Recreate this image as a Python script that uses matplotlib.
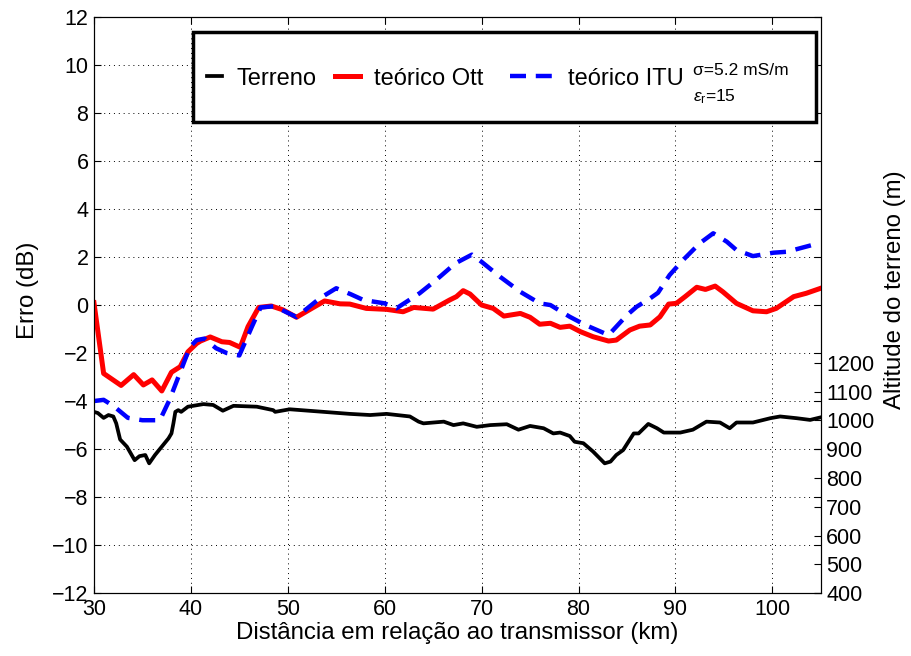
import numpy as np
import matplotlib
matplotlib.use("Agg")
from matplotlib import pyplot as plt
from matplotlib.legend import Legend
from matplotlib.patches import Rectangle

plt.rcParams["font.family"] = ["Liberation Sans", "DejaVu Sans"]
plt.rcParams["mathtext.fontset"] = "custom"
plt.rcParams["mathtext.rm"] = "Liberation Sans"
plt.rcParams["mathtext.it"] = "Liberation Sans:italic"

# terrain profile (m) along the path
dist_terr = [30.0, 30.4, 31.0, 31.5, 32.0, 32.3, 32.7, 33.4, 34.2, 34.7, 35.3, 35.7,
             36.3, 37.0, 37.7, 38.0, 38.2, 38.4, 38.7, 39.0, 39.7, 41.3, 42.3, 43.3,
             44.4, 46.8, 48.5, 48.7, 50.2, 53.7, 56.4, 58.5, 60.2, 62.6, 63.5, 64.0,
             66.1, 67.1, 68.1, 69.5, 70.9, 72.6, 73.8, 75.0, 76.4, 77.4, 78.1, 79.1,
             79.6, 80.5, 81.5, 82.7, 83.3, 83.9, 84.6, 85.7, 86.2, 87.2, 88.1, 88.8,
             90.5, 91.8, 93.2, 94.6, 95.6, 96.3, 98.0, 99.8, 100.8, 102.5, 103.9, 105.0]
alt_terr = [1030, 1026, 1009, 1019, 1014, 990, 934, 909, 862, 876, 880, 851,
            880, 909, 938, 955, 990, 1030, 1036, 1030, 1048, 1057, 1054, 1034,
            1051, 1048, 1036, 1030, 1039, 1030, 1023, 1019, 1023, 1014, 996, 990,
            996, 984, 990, 978, 984, 987, 968, 981, 973, 955, 958, 946,
            926, 921, 892, 851, 857, 880, 897, 955, 955, 988, 973, 958,
            958, 968, 996, 993, 973, 993, 993, 1008, 1014, 1008, 1002, 1011]

# error of the Ott model (dB)
dist_ott = [30.0, 30.2, 31.0, 32.8, 34.1, 35.1, 36.0, 37.0, 38.0, 38.9, 39.7, 40.6,
            41.0, 42.0, 43.2, 44.0, 45.1, 45.9, 47.0, 48.3, 49.5, 50.9, 52.6, 53.8,
            55.4, 56.4, 58.1, 60.2, 61.9, 63.0, 65.0, 66.7, 67.4, 68.1, 68.8, 70.0,
            71.2, 72.3, 74.0, 75.0, 76.0, 77.1, 78.1, 79.1, 80.2, 81.5, 83.1, 83.9,
            85.3, 86.3, 87.4, 88.4, 89.3, 90.1, 91.0, 92.2, 93.1, 94.1, 94.9, 96.3,
            98.0, 99.4, 100.4, 102.2, 103.5, 105.0]
err_ott = [0.1, -0.49, -2.85, -3.35, -2.9, -3.33, -3.12, -3.58, -2.8, -2.57, -1.95, -1.6,
           -1.5, -1.33, -1.53, -1.56, -1.76, -0.9, -0.1, -0.04, -0.2, -0.51, -0.11, 0.17,
           0.05, 0.04, -0.14, -0.18, -0.28, -0.1, -0.17, 0.21, 0.35, 0.6, 0.46, 0.0,
           -0.14, -0.46, -0.35, -0.51, -0.8, -0.76, -0.93, -0.88, -1.11, -1.32, -1.5, -1.46,
           -1.04, -0.88, -0.83, -0.49, 0.04, 0.07, 0.35, 0.74, 0.65, 0.79, 0.55, 0.07,
           -0.24, -0.28, -0.14, 0.35, 0.49, 0.7]

# error of the ITU model (dB)
dist_itu = [30.0, 31.0, 32.0, 33.5, 35.0, 36.8, 37.8, 38.9, 39.9, 40.6, 41.4, 42.6,
            43.7, 45.0, 46.3, 47.2, 48.6, 50.9, 53.3, 55.0, 56.5, 57.8, 60.0, 61.2,
            63.6, 65.3, 67.3, 69.0, 70.0, 71.9, 74.0, 76.0, 77.1, 79.1, 80.7, 83.1,
            85.0, 86.0, 87.4, 88.2, 89.4, 90.8, 92.5, 93.9, 95.3, 96.3, 98.0, 100.1,
            101.5, 104.1, 104.6]
err_itu = [-4.0, -3.95, -4.2, -4.7, -4.8, -4.8, -3.95, -2.8, -1.75, -1.46, -1.4, -1.8,
           -2.0, -2.1, -0.9, -0.1, -0.05, -0.5, 0.28, 0.7, 0.45, 0.21, 0.07, -0.14,
           0.49, 1.04, 1.74, 2.1, 1.8, 1.18, 0.55, 0.07, 0.0, -0.49, -0.83, -1.25,
           -0.42, -0.07, 0.28, 0.51, 1.25, 1.88, 2.57, 2.99, 2.64, 2.29, 2.04, 2.18,
           2.22, 2.5, 2.55]

labels = ["Terreno", "teórico Ott", "teórico ITU"]

fig = plt.figure(figsize=(9.12, 6.56), dpi=100)
ax = fig.add_axes([0.103, 0.096, 0.797, 0.878])
ax2 = ax.twinx()

# left axis draws above the terrain axis
ax.set_zorder(ax2.get_zorder() + 1)
ax.patch.set_visible(False)

h_terr, = ax2.plot(dist_terr, alt_terr, color="black", lw=2.7, solid_joinstyle="round")
h_ott, = ax.plot(dist_ott, err_ott, color="red", lw=3.6, solid_joinstyle="round")
h_itu, = ax.plot(dist_itu, err_itu, color="blue", lw=3.2, linestyle=(0, (3.6, 2.2)))

ax.set_xlim(30, 105)
ax.set_ylim(-12, 12)
ax.set_xticks(np.arange(30, 101, 10))
ax.set_yticks(np.arange(-12, 13, 2))
ax.grid(True, color="black", linestyle=(0, (1, 4)), lw=0.7)
ax.tick_params(direction="in", length=5, labelsize=15.5, top=True, right=True, pad=4)

ax2.set_ylim(400, 2403)
ax2.set_yticks(np.arange(400, 1201, 100))
ax2.tick_params(direction="in", length=5, labelsize=15.5, pad=4)

for a in (ax, ax2):
    for s in a.spines.values():
        s.set_linewidth(0.8)

ax.set_xlabel("Distância em relação ao transmissor (km)", fontsize=17.3, labelpad=2)
ax.set_ylabel("Erro (dB)", fontsize=17.3)
ax2.set_ylabel("Altitude do terreno (m)", fontsize=17.3)
ax.yaxis.set_label_coords(-0.075, 0.526)
ax2.yaxis.set_label_coords(1.087, 0.526)

# legend box, one entry per legend so each key gets its own length
ax.add_patch(Rectangle((0.136, 0.818), 0.857, 0.156, transform=ax.transAxes,
                       facecolor="white", edgecolor="black", lw=2.5, zorder=5))
entries = [(h_terr, labels[0], 0.1554, 0.62, 0.65),
           (h_ott, labels[1], 0.3315, 1.05, 0.6),
           (h_itu, labels[2], 0.572, 2.05, 0.4)]
for handle, text, x0, hlen, pad in entries:
    leg = Legend(ax, [handle], [text], loc="center left", bbox_to_anchor=(x0, 0.893),
                 frameon=False, fontsize=17, handlelength=hlen, handletextpad=pad,
                 borderpad=0, borderaxespad=0)
    leg.set_zorder(6)
    ax.add_artist(leg)

ax.text(0.824, 0.907, "σ=5.2 mS/m", transform=ax.transAxes, fontsize=12.5,
        ha="left", va="center", zorder=7)
ax.text(0.824, 0.862, r"$\varepsilon_{\rm r}$=15", transform=ax.transAxes, fontsize=12.5,
        ha="left", va="center", zorder=7)

plt.savefig("out.png", dpi=100)
